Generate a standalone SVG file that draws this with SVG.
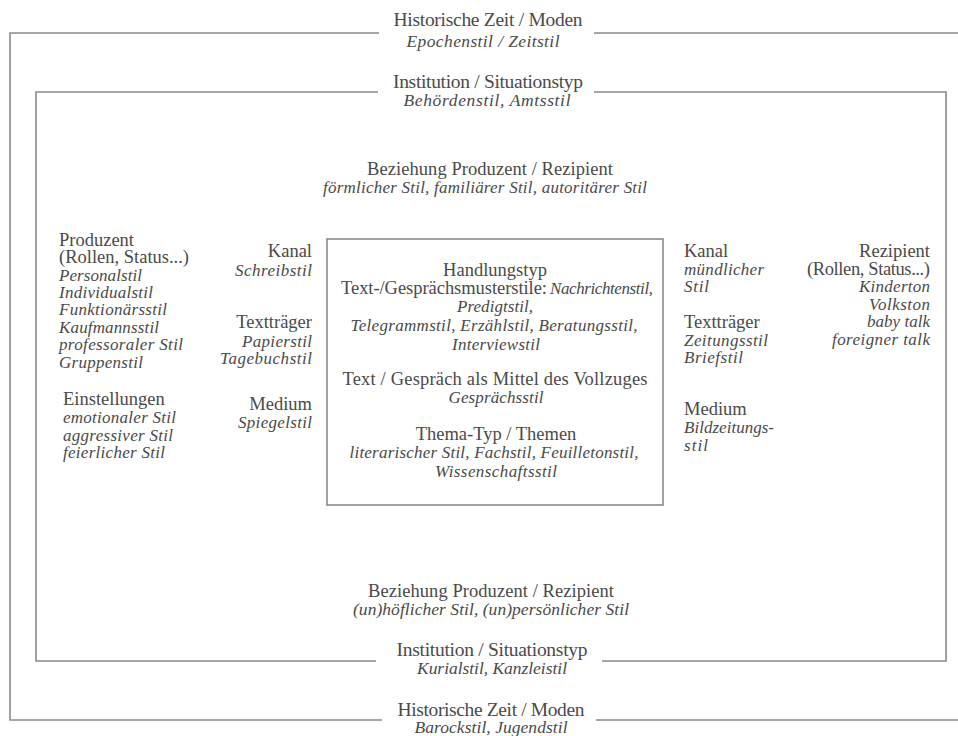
<svg xmlns="http://www.w3.org/2000/svg" width="958" height="736" viewBox="0 0 958 736">
<style>
text{font-family:"Liberation Serif","Times New Roman",serif;fill:#4a4a4a;}
.r{font-size:18.5px;}
.i{font-size:17px;font-style:italic;}
.h{font-size:19.5px;}
.hi{font-size:17.5px;font-style:italic;}
.m{text-anchor:middle;}
.e{text-anchor:end;}
.ln{fill:none;stroke:#8a8a8a;stroke-width:1.6;}
</style>
<rect width="958" height="736" fill="#ffffff"/>
<g id="frames">
  <path class="ln" d="M379 33 H10 V720 H382"/>
  <path class="ln" d="M594 33 H958"/>
  <path class="ln" d="M596 720 H958"/>
  <path class="ln" d="M378 92 H36 V661 H376"/>
  <path class="ln" d="M594 92 H946 V661 H602"/>
</g>
<g id="connectors"></g>
<g id="hist-top">
  <text class="h m" x="488" y="26" textLength="189">Historische Zeit / Moden</text>
  <text class="hi m" x="483" y="47" textLength="153">Epochenstil / Zeitstil</text>
</g>
<g id="inst-top">
  <text class="h m" x="488" y="88" textLength="190">Institution / Situationstyp</text>
  <text class="hi m" x="487" y="106" textLength="167">Behördenstil, Amtsstil</text>
</g>
<g id="bez-top">
  <text class="r m" x="490" y="175" textLength="246">Beziehung Produzent / Rezipient</text>
  <text class="i m" x="485" y="193" textLength="324">förmlicher Stil, familiärer Stil, autoritärer Stil</text>
</g>
<g id="produzent">
  <text class="r" x="59" y="246">Produzent</text>
  <text class="r" x="59" y="263">(Rollen, Status...)</text>
  <text class="i" x="59" y="281" textLength="83">Personalstil</text>
  <text class="i" x="59" y="298" textLength="94">Individualstil</text>
  <text class="i" x="59" y="315" textLength="108">Funktionärsstil</text>
  <text class="i" x="59" y="333" textLength="100">Kaufmannsstil</text>
  <text class="i" x="59" y="350" textLength="124">professoraler Stil</text>
  <text class="i" x="59" y="368" textLength="84">Gruppenstil</text>
</g>
<g id="einstellungen">
  <text class="r" x="63" y="405">Einstellungen</text>
  <text class="i" x="63" y="423" textLength="113">emotionaler Stil</text>
  <text class="i" x="63" y="441" textLength="110">aggressiver Stil</text>
  <text class="i" x="63" y="458" textLength="102">feierlicher Stil</text>
</g>
<g id="links-medien">
  <text class="r e" x="312" y="257">Kanal</text>
  <text class="i e" x="312" y="276" textLength="77">Schreibstil</text>
  <text class="r e" x="312" y="328">Textträger</text>
  <text class="i e" x="312" y="347" textLength="70">Papierstil</text>
  <text class="i e" x="312" y="364" textLength="92">Tagebuchstil</text>
  <text class="r e" x="312" y="410">Medium</text>
  <text class="i e" x="312" y="428" textLength="74">Spiegelstil</text>
</g>
<g id="handlungstyp">
  <rect class="ln" x="327" y="239" width="336" height="266"/>
  <text class="r m" x="495" y="276">Handlungstyp</text>
  <text class="r" x="341" y="294" textLength="206">Text-/Gesprächsmusterstile:</text>
  <text class="i" x="550" y="294" textLength="103">Nachrichtenstil,</text>
  <text class="i m" x="495" y="312" textLength="76">Predigtstil,</text>
  <text class="i m" x="494" y="331" textLength="287">Telegrammstil, Erzählstil, Beratungsstil,</text>
  <text class="i m" x="496" y="350" textLength="88">Interviewstil</text>
  <text class="r m" x="495" y="385" textLength="305">Text / Gespräch als Mittel des Vollzuges</text>
  <text class="i m" x="496" y="403" textLength="95">Gesprächsstil</text>
  <text class="r m" x="496" y="440">Thema-Typ / Themen</text>
  <text class="i m" x="494" y="458" textLength="289">literarischer Stil, Fachstil, Feuilletonstil,</text>
  <text class="i m" x="496" y="477" textLength="122">Wissenschaftsstil</text>
</g>
<g id="rechts-medien">
  <text class="r" x="684" y="257">Kanal</text>
  <text class="i" x="684" y="275" textLength="80">mündlicher</text>
  <text class="i" x="684" y="292" textLength="25">Stil</text>
  <text class="r" x="684" y="328">Textträger</text>
  <text class="i" x="684" y="346" textLength="84">Zeitungsstil</text>
  <text class="i" x="684" y="363" textLength="59">Briefstil</text>
  <text class="r" x="684" y="415">Medium</text>
  <text class="i" x="684" y="433" textLength="90">Bildzeitungs-</text>
  <text class="i" x="684" y="451" textLength="24">stil</text>
</g>
<g id="rezipient">
  <text class="r e" x="930" y="257">Rezipient</text>
  <text class="r e" x="930" y="275" textLength="123">(Rollen, Status...)</text>
  <text class="i e" x="930" y="292" textLength="71">Kinderton</text>
  <text class="i e" x="930" y="310" textLength="61">Volkston</text>
  <text class="i e" x="930" y="327" textLength="63">baby talk</text>
  <text class="i e" x="930" y="345" textLength="98">foreigner talk</text>
</g>
<g id="bez-bottom">
  <text class="r m" x="491" y="597" textLength="246">Beziehung Produzent / Rezipient</text>
  <text class="hi m" x="491" y="615" textLength="276">(un)höflicher Stil, (un)persönlicher Stil</text>
</g>
<g id="inst-bottom">
  <text class="h m" x="492" y="656" textLength="191">Institution / Situationstyp</text>
  <text class="hi m" x="492" y="674" textLength="150">Kurialstil, Kanzleistil</text>
</g>
<g id="hist-bottom">
  <text class="h m" x="491" y="716" textLength="187">Historische Zeit / Moden</text>
  <text class="hi m" x="491" y="733" textLength="153">Barockstil, Jugendstil</text>
</g>
</svg>
